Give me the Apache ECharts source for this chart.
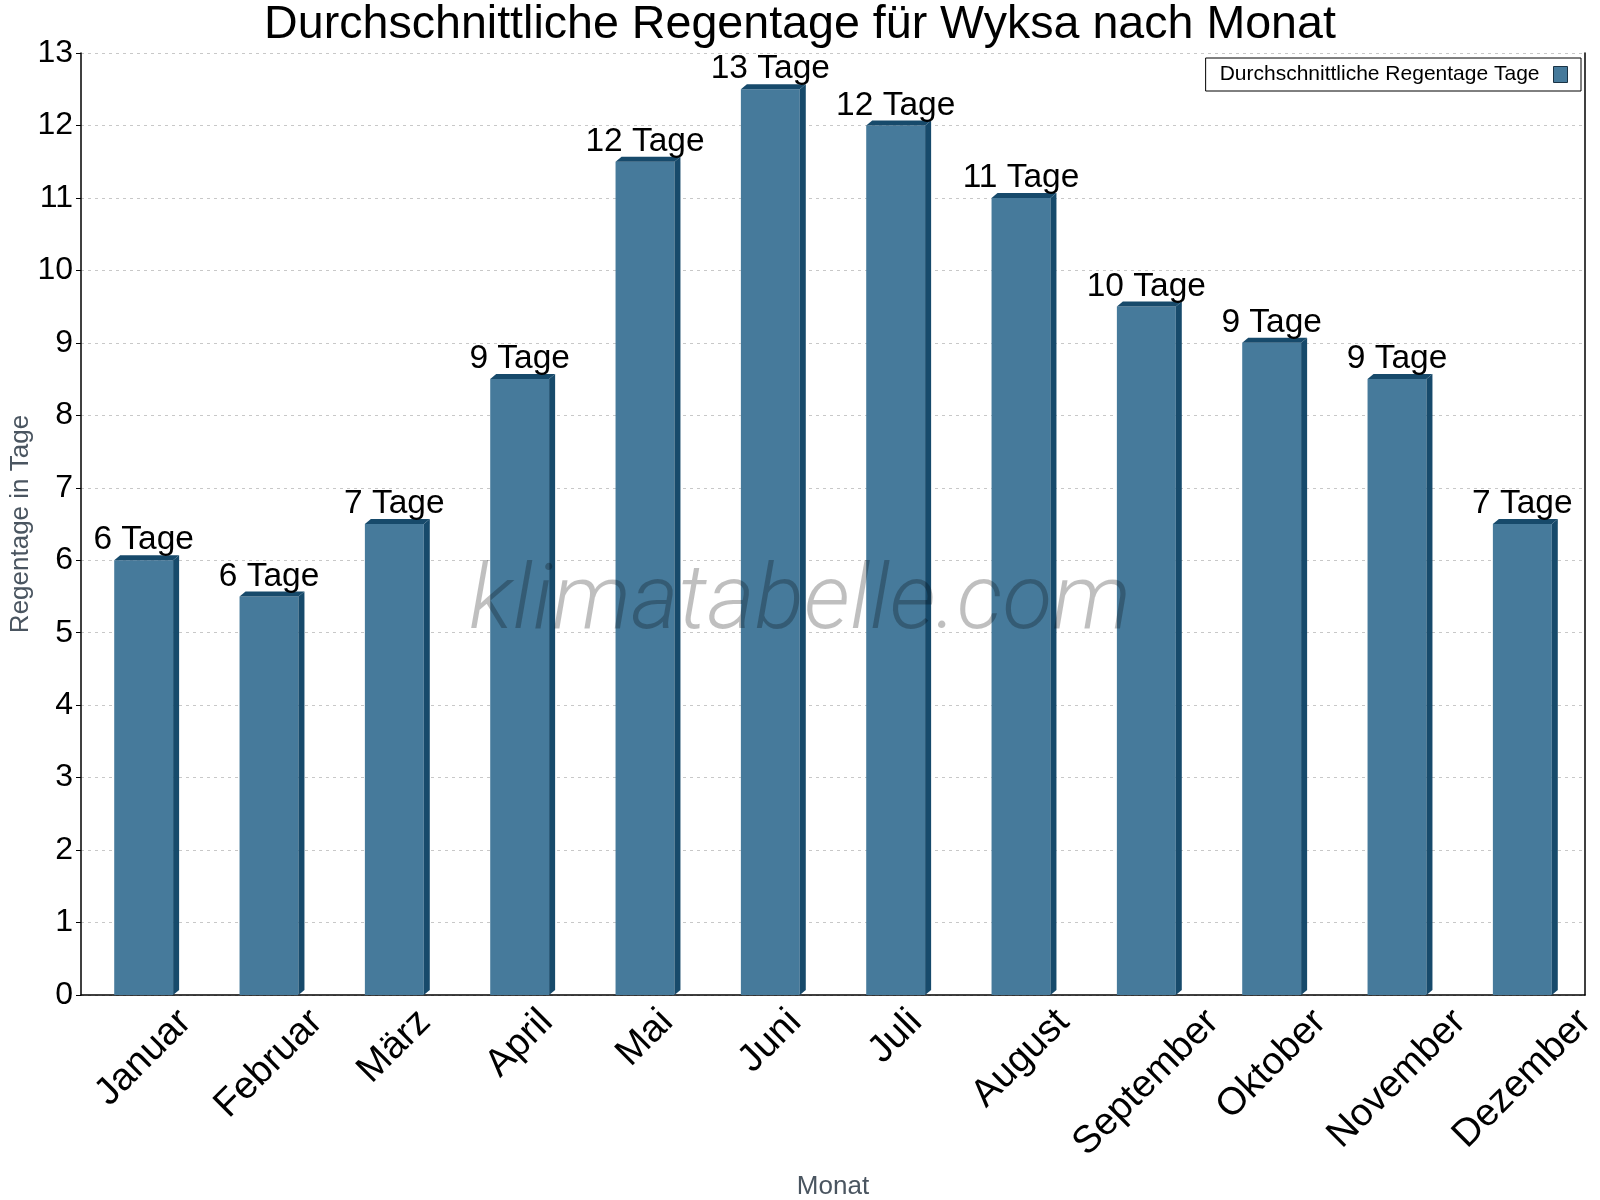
<!DOCTYPE html>
<html>
<head>
<meta charset="utf-8">
<title>Regentage Wyksa</title>
<script src="https://cdn.jsdelivr.net/npm/echarts@6/dist/echarts.min.js"></script>
<style>
  html, body { margin: 0; padding: 0; background: #fff; }
  #chart { width: 1600px; height: 1200px; }
</style>
</head>
<body>
<div id="chart"></div>
<script>
const months = ['Januar', 'Februar', 'März', 'April', 'Mai', 'Juni', 'Juli', 'August', 'September', 'Oktober', 'November', 'Dezember'];
const rainDays = [6, 5.5, 6.5, 8.5, 11.5, 12.5, 12, 11, 9.5, 9, 8.5, 6.5];
const yTicks = [0, 13, 1]; // min, max, interval

const FONT = '"Liberation Sans", Arial, sans-serif';
const front = '#467a9b';
const side = '#174a6b';

// x labels: mimic a bbox centred under each category, top aligned
const xFont = 38.5;
const ctx = document.createElement('canvas').getContext('2d');
ctx.font = xFont + 'px "Liberation Sans"';
const rich = {};
months.forEach((m, i) => {
  const w = ctx.measureText(m).width;
  const p = 0.5 * (w + xFont * 0.9);
  rich['m' + i] = { fontSize: xFont, fontFamily: FONT, color: '#000', padding: [p, p, 0, 0] };
});

function renderItem(params, api) {
  const x = api.value(0);
  const v = api.value(1);
  const base = api.coord([x, 0]);
  const top = api.coord([x, v]);
  const bw = api.size([1, 0])[0] * 0.47;
  const d = 6, dy = 5;
  const left = top[0] - bw / 2;
  const right = top[0] + bw / 2;
  return {
    type: 'group',
    children: [
      { type: 'rect', shape: { x: left, y: top[1], width: bw, height: base[1] - top[1] }, style: { fill: front } },
      { type: 'polygon', shape: { points: [[right, top[1]], [right + d, top[1] - dy], [right + d, base[1] - dy], [right, base[1]]] }, style: { fill: side } },
      { type: 'polygon', shape: { points: [[left, top[1]], [left + d, top[1] - dy], [right + d, top[1] - dy], [right, top[1]]] }, style: { fill: side } },
      {
        type: 'text', x: top[0], y: top[1] - dy + 2,
        style: { text: Math.round(v) + ' Tage', fill: '#000', font: '33.5px ' + FONT, align: 'center', verticalAlign: 'bottom' }
      }
    ]
  };
}

const chart = echarts.init(document.getElementById('chart'));
chart.setOption({
  animation: false,
  title: {
    text: 'Durchschnittliche Regentage für Wyksa nach Monat',
    left: 'center',
    top: -3,
    textStyle: { fontFamily: FONT, fontSize: 46.6, fontWeight: 'normal', color: '#000' }
  },
  legend: {
    data: [{ name: 'Durchschnittliche Regentage Tage', icon: 'rect' }],
    right: 19,
    top: 58,
    align: 'right',
    itemWidth: 14,
    itemHeight: 16,
    padding: [6, 13, 6, 14],
    borderColor: '#000',
    borderWidth: 1,
    borderRadius: 0,
    itemStyle: { color: front, borderColor: '#1a3345', borderWidth: 1 },
    textStyle: { fontFamily: FONT, fontSize: 21, color: '#000', padding: [0, 9, 0, 0] }
  },
  graphic: [{
    type: 'text',
    left: 'center',
    top: 559,
    z: 100,
    style: {
      text: 'klimatabelle.com',
      font: 'italic 300 91.5px Roboto, "Liberation Sans", sans-serif',
      fill: 'rgba(0,0,0,0.25)'
    }
  }],
  grid: { left: 81, right: 15, top: 53, bottom: 205, outerBoundsMode: 'none' },
  xAxis: {
    type: 'category',
    data: months,
    name: 'Monat',
    nameLocation: 'middle',
    nameGap: 179,
    nameMoveOverlap: false,
    nameTextStyle: { fontFamily: FONT, fontSize: 26, color: '#4a5560', verticalAlign: 'top' },
    axisLine: { lineStyle: { color: '#000', width: 1.5 } },
    axisTick: { lineStyle: { color: '#000' }, length: 6 },
    axisLabel: {
      interval: 0,
      rotate: 45,
      margin: 9,
      align: 'center',
      verticalAlign: 'middle',
      hideOverlap: false,
      formatter: (v, i) => '{m' + i + '|' + v + '}',
      rich: rich
    }
  },
  yAxis: [{
    type: 'value',
    min: yTicks[0],
    max: yTicks[1],
    interval: yTicks[2],
    name: 'Regentage in Tage',
    nameLocation: 'middle',
    nameGap: 47,
    nameMoveOverlap: false,
    nameTextStyle: { fontFamily: FONT, fontSize: 26, color: '#4a5560' },
    axisLine: { show: true, lineStyle: { color: '#000', width: 1.5 } },
    axisTick: { show: true, length: 5, lineStyle: { color: '#000' } },
    axisLabel: { fontFamily: FONT, fontSize: 32, color: '#000', margin: 8 },
    splitLine: { lineStyle: { color: '#c8c8c8', type: [3, 4] } }
  }, {
    type: 'value',
    position: 'right',
    min: yTicks[0],
    max: yTicks[1],
    interval: yTicks[2],
    axisLine: { show: true, lineStyle: { color: '#000', width: 1.5 } },
    axisTick: { show: false },
    axisLabel: { show: false },
    splitLine: { show: false }
  }],
  series: [{
    name: 'Durchschnittliche Regentage Tage',
    type: 'custom',
    renderItem: renderItem,
    itemStyle: { color: front },
    encode: { x: 0, y: 1 },
    data: rainDays.map((v, i) => [i, v])
  }]
});
</script>
</body>
</html>
